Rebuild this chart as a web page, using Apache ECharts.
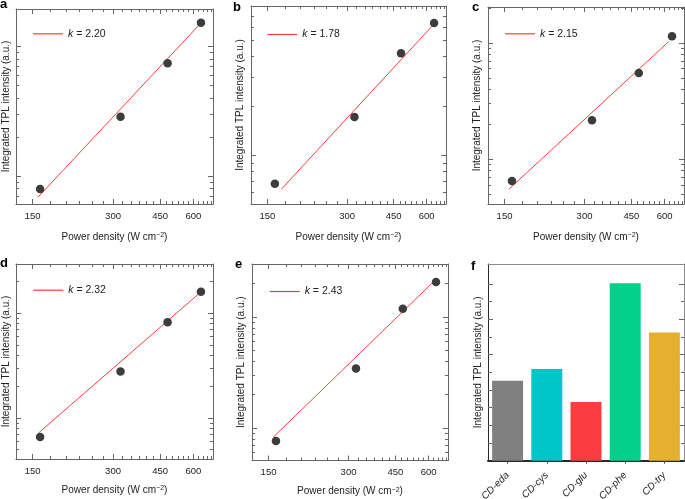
<!DOCTYPE html>
<html><head><meta charset="utf-8">
<script src="https://cdn.jsdelivr.net/npm/echarts@6/dist/echarts.min.js"></script>
<style>html,body{margin:0;padding:0;background:#fff}#c{width:685px;height:499px}</style>
</head><body><div id="c"></div>
<script>
// ---------- data ----------
const power = [160, 320, 480, 640];
const intensityA = [793, 2874, 7441, 15330];
const intensityB = [676, 1716, 4174, 6373];
const intensityC = [647, 2163, 5521, 11420];
const intensityD = [659, 2779, 8204, 16060];
const intensityE = [764, 3443, 11880, 20660];
const fitA = [[157, 684], [630, 14720]];
const fitB = [[169.5, 628], [630, 6109]];
const fitC = [[156, 552], [620, 10200]];
const fitD = [[157.7, 719], [635, 15710]];
const fitE = [[155.9, 823], [625, 20660]];
const slopes = ['2.20', '1.78', '2.15', '2.32', '2.43'];
const xTickLabels = [150, 300, 450, 600];
const xMinorTicks = [175, 200, 225, 250, 275, 325, 350, 375, 400, 425, 475, 500, 525, 550, 575, 625, 650, 675, 700];
const yMajorTicks = [1000, 10000];
const yMinorTicks = [200, 300, 400, 500, 600, 700, 800, 900, 2000, 3000, 4000, 5000, 6000, 7000, 8000, 9000, 20000, 30000];
const carbonDots = ['CD-eda', 'CD-cys', 'CD-glu', 'CD-phe', 'CD-try'];
const tplIntensity = [4.53, 5.19, 3.32, 10.04, 7.26];
const barColors = ['#808080', '#00c5c9', '#fa3d40', '#00d08a', '#e5b030'];
const fMajorTicks = [2, 4, 6, 8, 10];
const fMinorTicks = [1, 3, 5, 7, 9];

// ---------- layout ----------
const FRAME = '#666666';
const TXT = '#222';
const FONT = '"Liberation Sans", Arial, Helvetica, sans-serif';
const X_RANGE = [130, 710];
const panels = [
  {letter: 'a', y: intensityA, fit: fitA, k: slopes[0], grid: {left: 16, top: 9, width: 197, height: 195}, yr: [607, 19570], leg: [33, 28.3], nameGap: 28, letterPos: [0, 11], yNameGap: 5},
  {letter: 'b', y: intensityB, fit: fitB, k: slopes[1], grid: {left: 251, top: 6, width: 195, height: 198}, yr: [509.6, 8072], leg: [267.3, 29], nameGap: 28, letterPos: [233, 14], yNameGap: 6},
  {letter: 'c', y: intensityC, fit: fitC, k: slopes[2], grid: {left: 488, top: 7, width: 196, height: 197}, yr: [410.4, 20395], leg: [505, 28.3], nameGap: 28, letterPos: [472, 14], yNameGap: 6},
  {letter: 'd', y: intensityD, fit: fitD, k: slopes[3], grid: {left: 16, top: 264, width: 197, height: 195}, yr: [407, 29480], leg: [33.3, 284.7], nameGap: 26, letterPos: [0, 270], yNameGap: 5},
  {letter: 'e', y: intensityE, fit: fitE, k: slopes[4], grid: {left: 252, top: 264, width: 196, height: 196.5}, yr: [510.5, 30030], leg: [269.7, 286], nameGap: 26, letterPos: [235, 271], yNameGap: 6}
];

const grids = [], xAxis = [], yAxis = [], series = [], legends = [], graphics = [];

function tickAxis(type, gi, pos, min, max, ticks, len, line, lineColor, lineWidth) {
  return {
    type, gridIndex: gi, position: pos, min, max,
    splitLine: {show: false},
    axisLine: {show: line, onZero: false, lineStyle: {color: lineColor || FRAME, width: lineWidth || 1}},
    axisTick: {show: ticks != null, inside: true, length: len, customValues: ticks || [], lineStyle: {color: FRAME, width: 1}},
    axisLabel: {show: false},
    minorTick: {show: false}
  };
}

const yTitle = 'Integrated TPL intensity (a.u.)';

panels.forEach(p => {
  grids.push(Object.assign({outerBoundsMode: 'none', containLabel: false}, p.grid));
  const gi = grids.length - 1;
  const xi = xAxis.length, yi = yAxis.length;
  const xb = tickAxis('log', gi, 'bottom', X_RANGE[0], X_RANGE[1], xTickLabels, 5, true);
  xb.axisLabel = {show: true, customValues: xTickLabels, fontSize: 9.5, color: TXT, margin: 7, fontFamily: FONT};
  xb.name = 'Power density (W cm{sup|−2})';
  xb.nameLocation = 'middle';
  xb.nameGap = p.nameGap;
  xb.nameTextStyle = {fontSize: 10, color: TXT, fontFamily: FONT, rich: {sup: {fontSize: 7, lineHeight: 8, verticalAlign: 'top', color: TXT, fontFamily: FONT}}};
  xAxis.push(xb);
  xAxis.push(tickAxis('log', gi, 'bottom', X_RANGE[0], X_RANGE[1], xMinorTicks, 3, false));
  xAxis.push(tickAxis('log', gi, 'top', X_RANGE[0], X_RANGE[1], xTickLabels, 5, true));
  xAxis.push(tickAxis('log', gi, 'top', X_RANGE[0], X_RANGE[1], xMinorTicks, 3, false));
  const yl = tickAxis('log', gi, 'left', p.yr[0], p.yr[1], yMajorTicks, 5, true);
  yl.name = yTitle;
  yl.nameLocation = 'middle';
  yl.nameGap = p.yNameGap;
  yl.nameTextStyle = {fontSize: 10, color: TXT, fontFamily: FONT};
  yAxis.push(yl);
  yAxis.push(tickAxis('log', gi, 'left', p.yr[0], p.yr[1], yMinorTicks, 3, false));
  yAxis.push(tickAxis('log', gi, 'right', p.yr[0], p.yr[1], yMajorTicks, 5, true));
  yAxis.push(tickAxis('log', gi, 'right', p.yr[0], p.yr[1], yMinorTicks, 3, false));

  const lname = 'k = ' + p.k;
  series.push({
    type: 'line', name: lname, xAxisIndex: xi, yAxisIndex: yi,
    data: p.fit, symbol: 'none', z: 2,
    lineStyle: {color: '#ff3b3b', width: 1}, itemStyle: {color: '#ff3b3b'}
  });
  series.push({
    type: 'scatter', name: 'pts-' + p.letter, xAxisIndex: xi, yAxisIndex: yi,
    data: power.map((x, j) => [x, p.y[j]]), symbolSize: 8.5, z: 3,
    itemStyle: {color: '#3c3c3c', opacity: 1}
  });
  legends.push({
    left: p.leg[0], top: p.leg[1], padding: 0, itemWidth: 30, itemHeight: 1.2,
    icon: 'rect',
    data: [lname], selectedMode: false,
    formatter: n => '{i|k}' + n.slice(1),
    textStyle: {fontSize: 10.5, color: TXT, fontFamily: FONT, rich: {i: {fontStyle: 'italic', fontSize: 10.5, color: TXT, fontFamily: FONT}}}
  });
  graphics.push({type: 'text', x: p.letterPos[0], y: p.letterPos[1],
    style: {text: p.letter, font: 'bold 13px ' + FONT, fill: '#000', verticalAlign: 'bottom'}});
});

// panel f
grids.push({left: 488, top: 264, width: 196, height: 196.7, outerBoundsMode: 'none', containLabel: false});
const gf = grids.length - 1;
const fx = xAxis.length, fy = yAxis.length;
xAxis.push({
  type: 'category', gridIndex: gf, position: 'bottom', data: carbonDots,
  axisLine: {show: true, onZero: false, lineStyle: {color: '#2a2a2a', width: 2}},
  axisTick: {show: true, alignWithLabel: true, inside: false, length: 3, lineStyle: {color: '#444'}},
  axisLabel: {show: true, rotate: 45, fontSize: 10, fontStyle: 'italic', color: TXT, margin: 13, fontFamily: FONT, interval: 0},
  splitLine: {show: false}
});
xAxis.push({
  type: 'category', gridIndex: gf, position: 'top', data: carbonDots,
  axisLine: {show: true, onZero: false, lineStyle: {color: '#8a8a8a', width: 1}},
  axisTick: {show: false}, axisLabel: {show: false}, splitLine: {show: false}
});
const yfl = tickAxis('value', gf, 'left', 0, 11.13, fMajorTicks, 5, true, '#2a2a2a', 1);
yfl.name = yTitle; yfl.nameLocation = 'middle'; yfl.nameGap = 5;
yfl.nameTextStyle = {fontSize: 10, color: TXT, fontFamily: FONT};
yAxis.push(yfl);
yAxis.push(tickAxis('value', gf, 'left', 0, 11.13, fMinorTicks, 4, false));
yAxis.push(tickAxis('value', gf, 'right', 0, 11.13, fMajorTicks, 5, true, '#8a8a8a', 1));
yAxis.push(tickAxis('value', gf, 'right', 0, 11.13, fMinorTicks, 3, false));
series.push({
  type: 'bar', name: 'TPL', xAxisIndex: fx, yAxisIndex: fy, barWidth: '79%',
  data: tplIntensity.map((v, i) => ({value: v, itemStyle: {color: barColors[i]}}))
});
graphics.push({type: 'text', x: 471, y: 273, style: {text: 'f', font: 'bold 13px ' + FONT, fill: '#000', verticalAlign: 'bottom'}});

const chart = echarts.init(document.getElementById('c'), null, {renderer: 'canvas'});
chart.setOption({
  animation: false,
  backgroundColor: '#fff',
  textStyle: {fontFamily: FONT},
  grid: grids, xAxis, yAxis, series, legend: legends, graphic: graphics
});
</script>
</body></html>
